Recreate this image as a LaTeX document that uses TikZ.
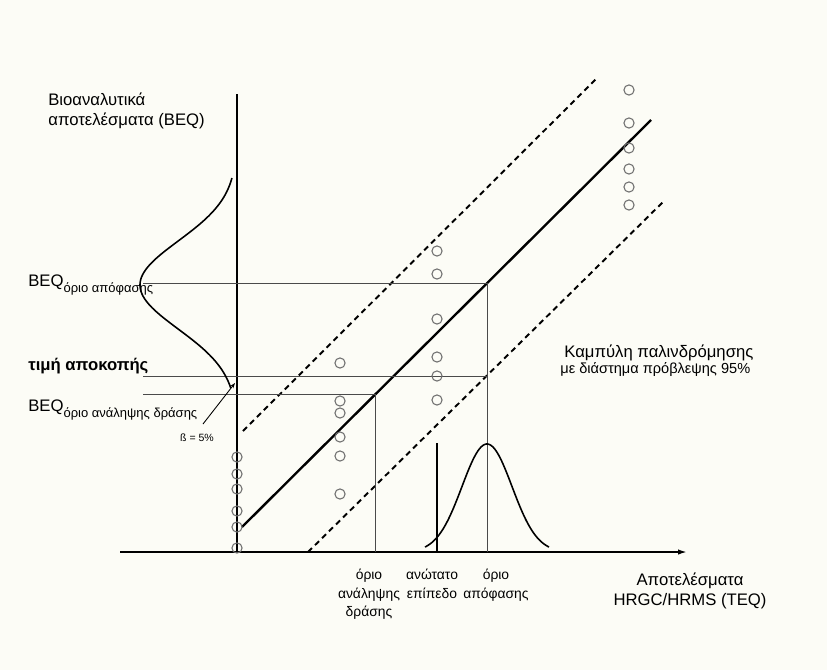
\documentclass[tikz,border=0pt]{standalone}
\usepackage{fontspec}
\setmainfont{Liberation Sans}
\usetikzlibrary{arrows.meta}
\definecolor{paper}{HTML}{FCFCF6}
\definecolor{ringgray}{HTML}{6E6E6E}
\definecolor{guidegray}{HTML}{4A4A4A}

\begin{document}
\begin{tikzpicture}[
    x=0.02cm, y=-0.02cm,
    axisline/.style={line width=0.9pt},
    guide/.style={line width=0.55pt, draw=guidegray},
    fitline/.style={line width=1.35pt},
    band/.style={line width=1.1pt, dash pattern=on 3.2pt off 2.4pt},
    bell/.style={line width=0.9pt},
    ring/.style={draw=ringgray, line width=0.6pt},
    lbl/.style={font=\fontsize{9.5}{11.5}\selectfont, inner sep=0pt, align=left},
    small lbl/.style={font=\fontsize{7.9}{10.4}\selectfont, inner sep=0pt, align=center}
]
    % paper
    \fill[paper] (0,0) rectangle (827,670);
    \useasboundingbox (0,0) rectangle (827,670);

    % axes
    \coordinate (O) at (237,552);
    \coordinate (ytop) at (237,94);
    \coordinate (xleft) at (120,552);
    \coordinate (xend) at (687,552);
    \draw[axisline] (ytop) -- (O);
    \draw[axisline, -{Latex[length=5pt,width=3pt]}] (xleft) -- (xend);

    % regression line and 95% band
    \coordinate (fitA) at (242,527);
    \coordinate (fitB) at (651,120);
    \coordinate (upA) at (243,431);
    \coordinate (upB) at (597,78);
    \coordinate (loA) at (308,552);
    \coordinate (loB) at (665,200);
    \draw[fitline] (fitA) -- (fitB);
    \draw[band] (upA) -- (upB);
    \draw[band] (loA) -- (loB);

    % guide lines
    \draw[guide] (143,283) -- (487,283) -- (487,552);
    \draw[guide] (143,376) -- (487,376);
    \draw[guide] (143,394) -- (375,394) -- (375,552);
    \draw[line width=1.1pt] (437,443) -- (437,552);

    % distributions
    \draw[bell] plot[domain=178:388, samples=90] ({237-97*exp(-((\x-285)/44)^2/2)}, \x);
    \draw[bell] plot[domain=425:549, samples=90] (\x, {552-108*exp(-((\x-487)/25)^2/2)});

    % measured points
    \foreach \y in {457,474,489,511,527,548}
        \draw[ring] (237,\y) circle[radius=2.9pt];
    \foreach \y in {363,401,413,437,456,494}
        \draw[ring] (340,\y) circle[radius=2.9pt];
    \foreach \y in {251,274,319,357,376,400}
        \draw[ring] (437,\y) circle[radius=2.9pt];
    \foreach \y in {90,123,148,169,187,205}
        \draw[ring] (629,\y) circle[radius=2.9pt];

    % labels
    \node[lbl, anchor=west] (yname) at (48,111) {Βιοαναλυτικά\\αποτελέσματα (BEQ)};
    \node[lbl, anchor=west] (beqdec) at (28,285) {BEQ\raisebox{-0.6ex}{\fontsize{7.4}{9}\selectfont όριο απόφασης}};
    \node[lbl, anchor=west, font=\fontsize{9.5}{11.5}\selectfont\bfseries] (cutoff) at (28,366) {τιμή αποκοπής};
    \node[lbl, anchor=west] (beqact) at (28,410) {BEQ\raisebox{-0.6ex}{\fontsize{7.4}{9}\selectfont όριο ανάληψης δράσης}};
    \node[inner sep=0pt, font=\fontsize{6}{7}\selectfont] (beta) at (197,438) {ß = 5\%};
    \draw[line width=0.5pt, -{Stealth[length=3pt,width=2.2pt]}] (203,424) -- (235,383);

    \node[lbl, anchor=west] (curve) at (564,353) {Καμπύλη παλινδρόμησης};
    \node[anchor=west, inner sep=0pt, font=\fontsize{8.3}{10}\selectfont] (band95) at (560,370) {με διάστημα πρόβλεψης 95\%};

    \node[small lbl, anchor=north] (actlim) at (369,569) {όριο\\ανάληψης\\δράσης};
    \node[small lbl, anchor=north] (maxlvl) at (432,569) {ανώτατο\\επίπεδο};
    \node[small lbl, anchor=north] (declim) at (496,569) {όριο\\απόφασης};
    \node[lbl, align=center] (xname) at (690,591) {Αποτελέσματα\\HRGC/HRMS (TEQ)};
\end{tikzpicture}
\end{document}
